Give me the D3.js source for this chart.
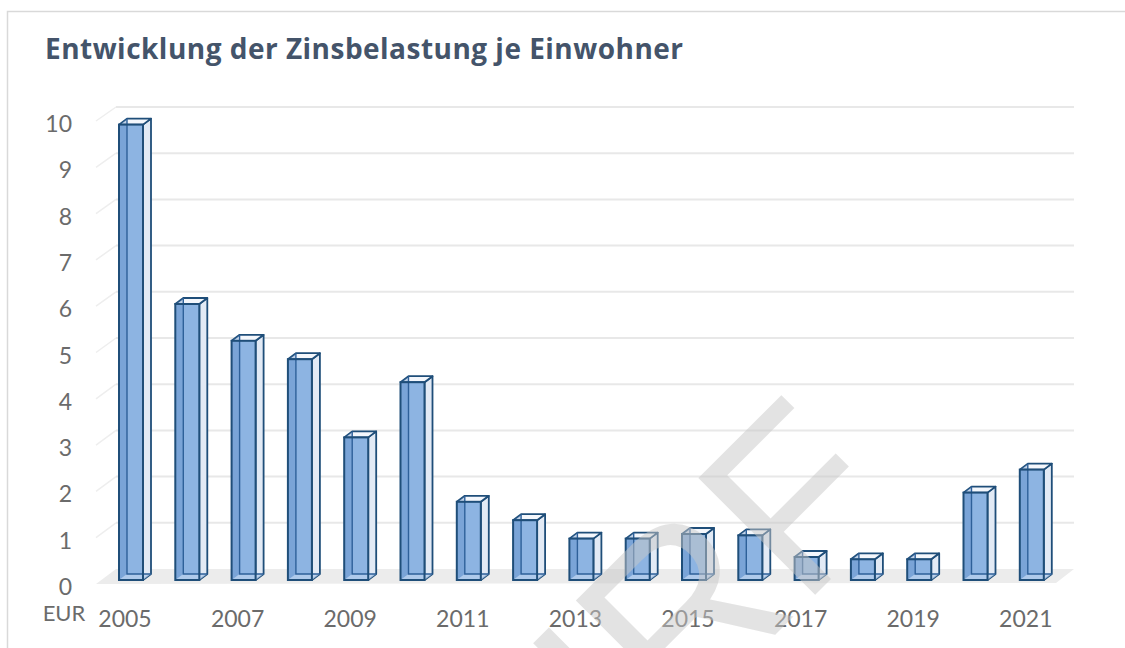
<!DOCTYPE html>
<html>
<head>
<meta charset="utf-8">
<script src="https://cdn.jsdelivr.net/npm/d3@7"></script>
<style>
  body { margin: 0; background: #fff; }
  text { font-family: Lato, "Open Sans", sans-serif; }
</style>
</head>
<body>
<div id="chart"></div>
<script>
// Daten
const years = [2005, 2006, 2007, 2008, 2009, 2010, 2011, 2012, 2013, 2014, 2015, 2016, 2017, 2018, 2019, 2020, 2021];
const values = [9.9, 6.0, 5.2, 4.8, 3.1, 4.3, 1.7, 1.3, 0.9, 0.9, 1.0, 0.97, 0.5, 0.45, 0.45, 1.9, 2.4];
const yTicks = [0, 1, 2, 3, 4, 5, 6, 7, 8, 9, 10];
const xLabels = [2005, 2007, 2009, 2011, 2013, 2015, 2017, 2019, 2021];
const title = "Entwicklung der Zinsbelastung je Einwohner";
const unit = "EUR";

const width = 1125, height = 648;

const svg = d3.select("#chart").append("svg")
  .attr("width", width).attr("height", height);

// Rahmen
svg.append("rect")
  .attr("x", 7.5).attr("y", 11.5)
  .attr("width", 1300).attr("height", 800)
  .attr("fill", "none").attr("stroke", "#d9d9d9").attr("stroke-width", 1.5);

// Titel
svg.append("text")
  .attr("x", 45).attr("y", 59)
  .attr("textLength", 638).attr("lengthAdjust", "spacing")
  .style("font-family", "'Open Sans', sans-serif")
  .style("font-weight", 700).style("font-size", "28px")
  .attr("fill", "#44546a")
  .text(title);

// Skalen: vordere Ebene (Beschriftung), Rückwand, Säulen
const yLabel = d3.scaleLinear().domain([0, 10]).range([586, 123]);
const yFront = d3.scaleLinear().domain([0, 10]).range([584, 121]);
const yWall = d3.scaleLinear().domain([0, 10]).range([569, 107]);
const yBar = d3.scaleLinear().domain([0, 10]).range([580, 120]);

const x = d3.scaleBand()
  .domain(years)
  .range([102.85, 1059.95])
  .paddingInner(1 - 24 / 56.3)
  .paddingOuter((1 - 24 / 56.3) / 2);

const wallLeft = 116, frontLeft = 96, wallRight = 1074;

// Boden
svg.append("polygon")
  .attr("points", [[frontLeft, yFront(0)], [wallLeft, yWall(0)], [wallRight, yWall(0)], [wallRight - 18, yFront(0) - 1]].join(" "))
  .attr("fill", "#ececec");

// Gitterlinien (Seitenwand + Rückwand)
const grid = svg.append("g");
grid.selectAll("line.side")
  .data(yTicks.filter(d => d > 0))
  .join("line")
  .attr("x1", frontLeft).attr("y1", d => yFront(d))
  .attr("x2", wallLeft).attr("y2", d => yWall(d))
  .attr("stroke", "#eeeeee").attr("stroke-width", 1.5);
grid.selectAll("line.back")
  .data(yTicks.filter(d => d > 0))
  .join("line")
  .attr("x1", wallLeft).attr("y1", d => yWall(d))
  .attr("x2", wallRight).attr("y2", d => yWall(d))
  .attr("stroke", "#e8e8e8").attr("stroke-width", 2);

// Y-Achse
svg.append("g").selectAll("text")
  .data(yTicks)
  .join("text")
  .attr("x", 72).attr("y", d => yLabel(d))
  .attr("text-anchor", "end").attr("dominant-baseline", "central")
  .style("font-size", "23px").attr("fill", "#6b6b6b")
  .text(d => d);

svg.append("text")
  .attr("x", 64).attr("y", 621)
  .attr("text-anchor", "middle")
  .style("font-size", "22px").attr("fill", "#6b6b6b")
  .text(unit);

// X-Achse
svg.append("g").selectAll("text")
  .data(xLabels)
  .join("text")
  .attr("x", d => x(d) + x.bandwidth() / 2 - 6)
  .attr("y", 627)
  .attr("text-anchor", "middle")
  .style("font-size", "23px").attr("fill", "#6b6b6b")
  .text(d => d);

// 3D-Säulen
const dx = 8, dy = -6;
const stroke = "#1f4e79";
const data = years.map((y, i) => ({ year: y, value: values[i] }));

const bars = svg.append("g").selectAll("g")
  .data(data)
  .join("g");

bars.each(function (d) {
  const g = d3.select(this);
  const x0 = x(d.year), w = x.bandwidth();
  const yt = yBar(d.value), yb = yBar(0);
  const pts = a => a.map(p => p.join(",")).join(" ");

  // rechte Seitenfläche
  g.append("polygon")
    .attr("points", pts([[x0 + w, yb], [x0 + w + dx, yb + dy], [x0 + w + dx, yt + dy], [x0 + w, yt]]))
    .attr("fill", "#e2eaf5").attr("stroke", stroke).attr("stroke-width", 1.8).attr("stroke-linejoin", "round");
  // Deckfläche
  g.append("polygon")
    .attr("points", pts([[x0, yt], [x0 + dx, yt + dy], [x0 + w + dx, yt + dy], [x0 + w, yt]]))
    .attr("fill", "#f4f7fc").attr("stroke", stroke).attr("stroke-width", 1.8).attr("stroke-linejoin", "round");
  // Vorderseite
  g.append("rect")
    .attr("x", x0).attr("y", yt)
    .attr("width", w).attr("height", yb - yt)
    .attr("fill", "#8db4e2");
  // linke Seite durchscheinend
  g.append("polygon")
    .attr("points", pts([[x0, yb], [x0 + dx, yb + dy], [x0 + dx, yt + dy], [x0, yt]]))
    .attr("fill", "#4f81bd").attr("opacity", 0.3);
  // Bodenfläche durchscheinend
  g.append("polygon")
    .attr("points", pts([[x0, yb], [x0 + dx, yb + dy], [x0 + w + dx, yb + dy], [x0 + w, yb]]))
    .attr("fill", "#b8d0ee").attr("opacity", 0.8);
  // verdeckte Kanten
  g.append("path")
    .attr("d", `M${x0 + dx},${yt + dy}V${yb + dy}H${x0 + w + dx}`)
    .attr("fill", "none").attr("stroke", "#2e6099").attr("stroke-width", 1.4);
  g.append("rect")
    .attr("x", x0).attr("y", yt)
    .attr("width", w).attr("height", yb - yt)
    .attr("fill", "none").attr("stroke", stroke).attr("stroke-width", 2);
});

// Wasserzeichen
svg.append("text")
  .attr("transform", "translate(905,505) rotate(-45)")
  .attr("text-anchor", "end")
  .style("font-family", "'Liberation Sans', sans-serif")
  .style("font-size", "240px")
  .attr("fill", "#c8c8c8").attr("opacity", 0.5)
  .text("ENTWURF");
</script>
</body>
</html>
